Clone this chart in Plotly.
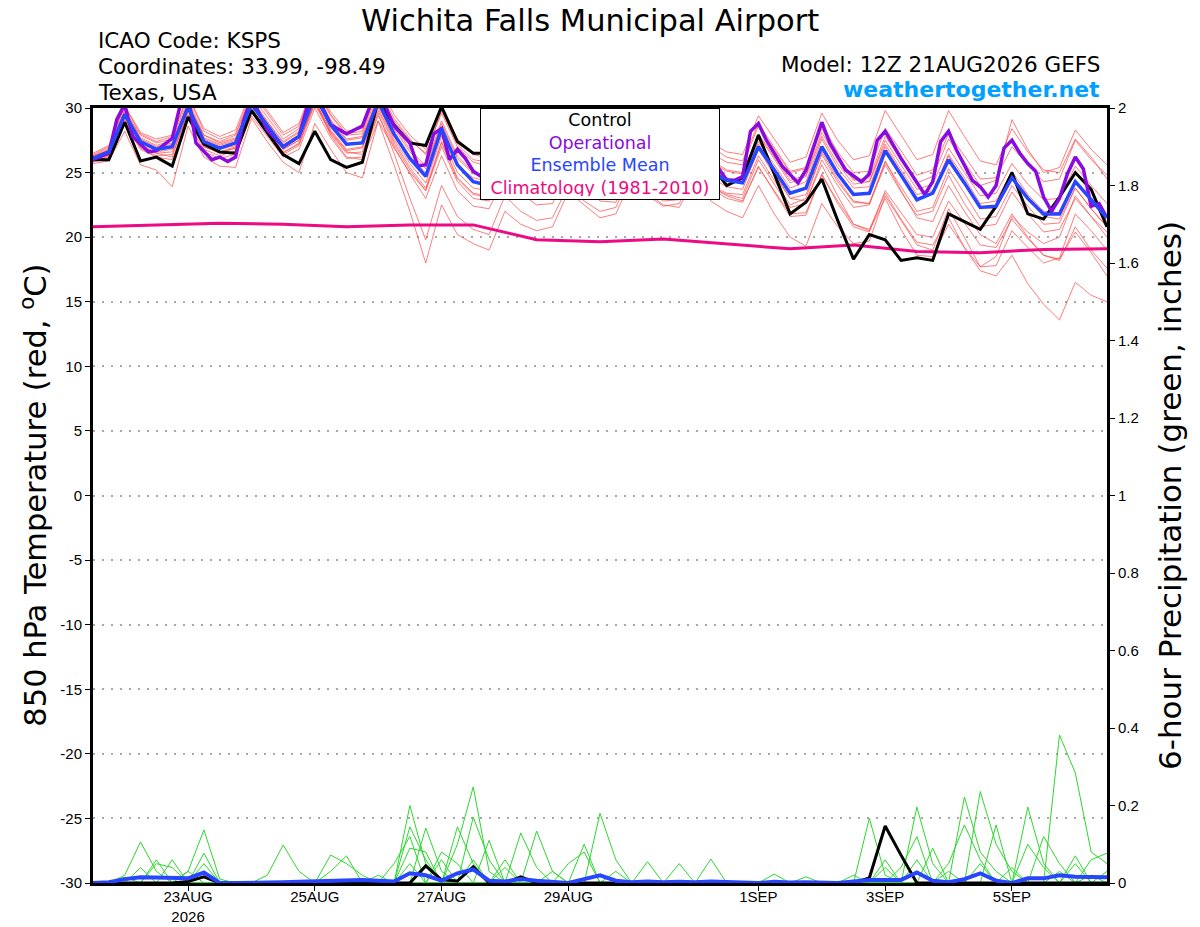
import pandas as pd
import plotly.graph_objects as go

# GEFS 850 hPa temperature / 6-hour precip plume, KSPS, run 12Z 21AUG2026
start = pd.Timestamp('2026-08-21 12:00')
times = pd.date_range(start, periods=65, freq='6h')

# ensemble mean (blue), 6-hourly
mean_temp = [26.1, 26.6, 29.5, 27.4, 26.8, 27.0, 30.1, 27.4, 26.9, 27.3,
             30.3, 28.7, 27.0, 27.8, 31.0, 28.7, 27.2, 27.3, 30.5, 28.0,
             26.1, 24.7, 28.4, 25.6, 24.3, 24.0, 26.5, 25.0, 24.0, 24.0,
             26.5, 25.0, 24.0, 24.2, 26.8, 25.3, 24.5, 24.5, 26.5, 25.0,
             24.4, 24.2, 27.0, 25.2, 23.4, 23.8, 27.0, 24.9, 23.3, 23.4,
             26.7, 24.8, 22.9, 23.4, 26.0, 24.2, 22.3, 22.4, 24.6, 23.0,
             21.8, 21.8, 24.3, 22.9, 21.5]

# control (black), 6-hourly
ctrl_temp = [26.0, 26.0, 28.9, 25.9, 26.2, 25.5, 29.3, 27.2, 26.6, 26.5,
             29.8, 28.1, 26.4, 25.7, 28.2, 26.0, 25.4, 25.8, 30.6, 28.7,
             27.3, 27.1, 30.1, 27.4, 26.5, 26.5, 28.5, 26.5, 25.5, 25.0,
             27.5, 26.0, 25.0, 25.0, 27.5, 26.0, 25.0, 24.8, 27.0, 25.6,
             24.0, 24.6, 27.9, 24.9, 21.8, 22.7, 24.5, 21.3, 18.3, 20.2,
             19.8, 18.2, 18.4, 18.2, 21.8, 21.2, 20.6, 22.4, 25.0, 21.8,
             21.4, 23.1, 25.0, 23.7, 20.8]

# operational GFS (purple), forecast hour -> temp (3-hourly where visible)
op_hours = [0, 6, 9, 12, 15, 21, 24, 30, 33, 36, 39, 45, 48, 51, 54, 57, 60, 66, 72, 78,
            81, 84, 87, 90, 96, 102, 105, 108, 111, 114, 120, 123, 126, 129, 132, 135, 138, 141, 144, 147,
            150, 156, 162, 168, 174, 180, 186, 192, 198, 204, 210, 216, 222, 228, 234, 237, 240, 243, 246, 249,
            252, 255, 261, 267, 270, 276, 279, 285, 291, 294, 297, 300, 306, 315, 318, 321, 324, 327, 333, 336,
            339, 342, 345, 348, 351, 354, 357, 360, 363, 366, 369, 372, 375, 378, 381, 384]
op_temp = [26.0, 26.5, 29.1, 30.3, 27.8, 26.6, 26.7, 27.65, 30.2, 31.0, 27.3, 26.0, 26.2, 25.85, 26.2, 29.0, 30.8, 28.3, 27.0, 27.8,
           30.0, 31.5, 30.0, 28.7, 28.0, 28.6, 30.2, 31.5, 30.0, 28.6, 27.3, 25.5, 25.6, 28.0, 28.4, 26.0, 26.8, 26.1, 25.1, 24.7,
           24.5, 27.0, 25.5, 24.5, 24.5, 27.0, 25.5, 24.5, 24.5, 27.0, 25.8, 25.0, 25.0, 27.0, 25.8, 25.3, 24.4, 24.4, 24.7, 28.2,
           28.8, 27.5, 25.5, 24.2, 25.2, 28.9, 27.3, 25.2, 24.3, 24.9, 27.5, 28.2, 26.1, 23.3, 24.3, 27.4, 28.2, 26.75, 24.4, 23.9,
           23.1, 24.0, 26.9, 27.5, 26.5, 25.7, 25.1, 23.1, 22.0, 23.0, 24.9, 26.2, 25.3, 22.4, 22.6, 21.5]

# 1981-2010 climatology (pink), daily points
clim_hours = [0, 24, 48, 72, 96, 120, 144, 168, 192, 216, 240, 264, 288, 312, 336, 360, 384]
clim_temp = [20.8, 20.95, 21.07, 21.0, 20.8, 20.95, 20.95, 19.8, 19.65, 19.85, 19.45, 19.1, 19.4, 18.9, 18.8, 19.05, 19.1]

# ensemble members, 850 hPa temperature (thin red)
mem01 = [26.3, 26.9, 29.8, 27.9, 27.3, 27.6, 30.6, 27.9, 27.4, 27.9,
         30.9, 29.3, 27.6, 28.4, 31.5, 29.4, 27.9, 28.0, 31.2, 29.0,
         27.5, 26.5, 29.6, 27.0, 25.8, 25.5, 27.8, 26.4, 25.4, 25.3,
         27.9, 26.6, 25.5, 25.7, 28.2, 26.8, 26.0, 25.9, 28.0, 26.5,
         25.8, 25.6, 28.6, 26.8, 25.0, 25.3, 28.7, 26.6, 25.0, 25.1,
         28.4, 26.7, 24.8, 25.2, 28.0, 26.3, 24.5, 24.6, 27.0, 25.6,
         24.3, 24.5, 27.5, 26.0, 24.8]
mem02 = [25.9, 26.2, 29.0, 26.9, 26.3, 26.4, 29.5, 26.8, 26.3, 26.7,
         29.7, 28.0, 26.4, 27.1, 30.3, 28.0, 26.5, 26.6, 29.8, 27.2,
         25.2, 23.6, 27.3, 24.5, 23.3, 23.1, 25.6, 24.2, 23.2, 23.3,
         25.8, 24.4, 23.4, 23.6, 26.1, 24.7, 23.7, 23.6, 25.6, 24.0,
         23.2, 22.8, 25.4, 23.6, 21.8, 21.9, 24.8, 22.8, 21.0, 20.6,
         23.4, 21.4, 19.6, 19.4, 21.5, 19.2, 17.4, 17.0, 18.6, 16.4,
         14.8, 13.6, 16.5, 15.5, 15.0]
mem03 = [26.2, 26.7, 29.6, 27.2, 26.5, 26.2, 29.8, 27.0, 26.5, 26.9,
         30.0, 28.3, 26.6, 27.2, 30.6, 27.9, 26.2, 26.0, 29.0, 25.6,
         22.0, 18.0, 22.5, 20.2, 19.5, 19.0, 22.0, 21.0, 20.5, 20.8,
         23.5, 22.5, 21.5, 21.8, 24.5, 23.2, 22.4, 22.6, 25.0, 23.8,
         23.3, 23.0, 26.0, 24.1, 22.3, 22.6, 26.0, 24.0, 22.3, 22.5,
         25.8, 23.9, 22.0, 22.3, 25.3, 23.4, 21.4, 21.6, 24.0, 22.4,
         21.0, 21.1, 23.8, 22.2, 20.8]
mem04 = [26.0, 26.5, 29.2, 27.0, 26.6, 26.8, 29.9, 27.0, 26.6, 27.0,
         29.9, 28.2, 26.5, 27.3, 30.4, 28.1, 26.6, 26.4, 29.6, 26.5,
         23.0, 19.8, 24.0, 21.6, 20.6, 20.2, 23.2, 22.0, 21.3, 21.5,
         24.0, 22.8, 22.0, 22.3, 25.0, 23.6, 22.8, 22.9, 25.4, 24.0,
         23.4, 23.3, 26.3, 24.4, 22.5, 23.0, 26.6, 24.5, 22.8, 22.6,
         25.9, 23.6, 21.5, 21.2, 24.0, 22.0, 20.2, 19.5, 21.8, 20.0,
         18.6, 18.2, 20.8, 19.0, 17.6]
mem05 = [26.1, 26.4, 29.3, 27.3, 26.9, 27.2, 30.3, 27.6, 27.1, 27.5,
         30.5, 28.6, 26.8, 27.5, 30.6, 28.2, 26.7, 26.9, 30.0, 27.4,
         25.4, 23.8, 27.4, 24.6, 23.4, 23.2, 25.8, 24.3, 23.2, 23.1,
         25.5, 24.0, 22.8, 22.7, 25.0, 23.4, 22.5, 22.3, 24.6, 22.8,
         22.0, 21.5, 24.0, 21.8, 20.0, 19.3, 22.6, 20.8, 19.5, 19.7,
         23.2, 21.3, 19.4, 19.0, 22.2, 20.0, 17.7, 17.8, 20.5, 19.2,
         18.0, 18.4, 21.8, 20.5, 19.0]
mem06 = [26.4, 27.0, 30.1, 28.0, 27.4, 27.8, 30.9, 28.2, 27.6, 28.0,
         31.2, 29.6, 27.9, 28.6, 31.8, 29.5, 28.0, 28.2, 31.5, 29.2,
         27.6, 26.4, 29.8, 27.2, 26.0, 25.8, 28.4, 27.0, 26.0, 26.0,
         28.6, 27.2, 26.2, 26.4, 29.0, 27.5, 26.6, 26.6, 28.8, 27.3,
         26.6, 26.4, 29.4, 27.6, 25.8, 26.2, 29.6, 27.5, 26.0, 26.3,
         29.8, 27.9, 26.0, 26.4, 29.8, 27.8, 25.9, 25.6, 28.4, 26.6,
         25.2, 25.0, 27.6, 26.2, 24.5]
mem07 = [26.2, 26.8, 29.7, 27.6, 27.0, 27.3, 30.4, 27.7, 27.2, 27.6,
         30.7, 29.0, 27.3, 28.1, 31.2, 29.0, 27.5, 27.7, 30.9, 28.6,
         26.8, 25.5, 29.0, 26.3, 25.0, 24.8, 27.2, 25.8, 24.8, 24.8,
         27.3, 25.9, 24.9, 25.1, 27.6, 26.1, 25.3, 25.3, 27.4, 26.0,
         25.2, 25.0, 28.0, 26.2, 24.4, 24.8, 28.1, 26.0, 24.4, 24.6,
         27.8, 26.0, 24.2, 24.7, 27.6, 25.8, 24.0, 24.4, 29.1, 26.8,
         25.0, 25.4, 28.3, 26.8, 25.6]
mem08 = [25.8, 26.3, 28.8, 26.8, 26.2, 26.0, 29.2, 26.6, 26.1, 26.4,
         29.4, 27.8, 26.2, 26.8, 30.0, 27.7, 26.1, 26.2, 29.4, 27.0,
         24.9, 23.0, 26.3, 23.6, 22.4, 22.2, 24.8, 23.4, 22.5, 22.6,
         25.2, 23.9, 22.9, 23.1, 25.7, 24.2, 23.3, 23.2, 25.4, 23.8,
         23.0, 22.7, 25.5, 23.5, 21.6, 21.7, 24.9, 22.6, 20.8, 20.4,
         23.6, 21.9, 20.2, 20.0, 22.8, 21.1, 19.4, 19.2, 21.4, 19.9,
         18.6, 18.3, 20.4, 18.8, 17.0]
mem09 = [25.7, 25.9, 28.2, 25.6, 25.2, 23.9, 28.6, 26.2, 25.5, 25.4,
         29.2, 27.4, 25.8, 25.0, 28.8, 26.8, 25.0, 24.6, 29.0, 26.9,
         25.0, 23.6, 27.0, 24.3, 23.0, 22.8, 25.4, 24.1, 23.3, 23.4,
         26.0, 24.7, 23.8, 24.0, 26.6, 25.0, 24.1, 24.2, 26.2, 24.6,
         23.9, 23.7, 26.8, 24.8, 23.0, 23.3, 26.4, 24.3, 22.7, 22.6,
         25.6, 23.5, 21.7, 22.0, 24.8, 22.6, 20.8, 21.0, 23.5, 21.8,
         20.4, 20.6, 23.0, 21.6, 20.0]
mem10 = [26.0, 26.6, 29.4, 27.5, 26.7, 27.1, 30.0, 27.5, 26.8, 27.1,
         30.1, 28.5, 27.1, 27.9, 30.8, 28.5, 27.1, 27.4, 30.3, 27.8,
         26.2, 25.0, 28.1, 25.5, 24.6, 24.3, 26.7, 25.3, 24.3, 24.4,
         26.8, 25.4, 24.5, 24.7, 27.2, 25.6, 24.7, 24.8, 26.9, 25.3,
         24.6, 24.3, 27.2, 25.0, 23.0, 22.8, 25.6, 23.2, 21.0, 20.5,
         23.0, 20.6, 18.6, 18.5, 21.0, 19.2, 17.7, 18.5, 21.6, 20.4,
         19.5, 20.0, 23.2, 21.6, 20.4]
mem11 = [26.3, 26.7, 29.9, 27.7, 27.1, 27.5, 30.2, 27.9, 27.3, 27.7,
         30.6, 28.9, 27.4, 28.2, 31.3, 29.1, 27.6, 27.8, 30.8, 28.4,
         26.6, 25.3, 28.8, 26.1, 24.9, 24.6, 27.0, 25.6, 24.6, 24.7,
         27.1, 25.8, 24.8, 25.0, 27.5, 26.0, 25.1, 25.2, 27.3, 25.8,
         25.1, 24.9, 27.9, 26.0, 24.2, 24.7, 27.8, 25.7, 24.1, 24.3,
         27.5, 25.6, 23.7, 24.1, 26.9, 25.0, 23.2, 23.4, 25.7, 24.1,
         22.9, 23.0, 25.5, 24.0, 22.6]
mem12 = [26.5, 27.1, 30.2, 28.1, 27.6, 27.9, 31.0, 28.4, 27.8, 28.3,
         31.4, 29.8, 28.1, 28.8, 32.0, 29.7, 28.2, 28.4, 31.8, 29.5,
         27.9, 26.8, 30.2, 27.6, 26.4, 26.1, 28.6, 27.3, 26.3, 26.2,
         28.8, 27.4, 26.4, 26.5, 29.0, 27.6, 26.7, 26.5, 28.6, 27.0,
         26.2, 25.9, 28.8, 26.9, 25.1, 25.4, 28.4, 26.2, 24.5, 24.3,
         27.2, 25.2, 23.3, 23.6, 26.3, 24.2, 22.3, 22.2, 24.7, 22.9,
         21.6, 21.4, 23.8, 22.2, 20.8]
mem13 = [26.0, 26.4, 29.1, 27.1, 26.5, 26.6, 29.7, 27.2, 26.6, 26.9,
         29.9, 28.4, 26.8, 27.5, 30.5, 28.3, 26.8, 27.0, 30.2, 27.6,
         25.7, 24.2, 27.8, 25.0, 23.8, 23.6, 26.1, 24.6, 23.7, 23.8,
         26.3, 24.9, 23.9, 24.1, 26.7, 25.1, 24.2, 24.3, 26.5, 25.1,
         24.5, 24.4, 27.4, 25.6, 23.8, 24.3, 27.6, 25.4, 23.8, 23.9,
         27.0, 25.0, 23.0, 23.5, 26.4, 24.6, 22.6, 22.8, 25.1, 23.3,
         22.0, 21.9, 24.4, 22.8, 21.2]
temp_members = [mem01, mem02, mem03, mem04, mem05, mem06, mem07,
                mem08, mem09, mem10, mem11, mem12, mem13]

# 6-hour precipitation (inches)
ctrl_pcp = [0, 0, 0, 0, 0, 0, 0.004, 0.016, 0, 0,
            0, 0, 0, 0, 0, 0, 0, 0, 0, 0,
            0, 0.044, 0.008, 0.005, 0.042, 0, 0, 0.016, 0, 0,
            0, 0, 0, 0, 0, 0, 0, 0, 0, 0,
            0, 0, 0, 0, 0, 0, 0, 0, 0, 0.013,
            0.147, 0.072, 0, 0, 0, 0, 0, 0, 0, 0,
            0, 0, 0, 0, 0]
mean_pcp = [0, 0.002, 0.01, 0.015, 0.014, 0.012, 0.012, 0.027, 0, 0,
            0, 0, 0.002, 0.003, 0.004, 0.006, 0.008, 0.008, 0.006, 0.004,
            0.025, 0.02, 0.006, 0.025, 0.035, 0.006, 0.004, 0.01, 0.006, 0.003,
            0, 0.01, 0.02, 0.006, 0.002, 0.004, 0.002, 0.003, 0.002, 0.004,
            0.002, 0.001, 0, 0.003, 0.001, 0.002, 0, 0, 0.004, 0.008,
            0.008, 0.008, 0.027, 0.006, 0.002, 0.01, 0.025, 0.006, 0, 0.012,
            0.012, 0.02, 0.016, 0.016, 0.015]

pcp01 = [0, 0, 0.02, 0.106, 0.03, 0, 0, 0, 0, 0,
         0, 0, 0, 0, 0, 0, 0, 0, 0, 0,
         0.2, 0.05, 0, 0, 0, 0, 0, 0, 0, 0,
         0, 0, 0, 0, 0, 0, 0, 0, 0, 0,
         0, 0, 0, 0, 0, 0, 0, 0, 0, 0,
         0, 0, 0, 0, 0, 0.222, 0.08, 0.03, 0, 0,
         0, 0, 0, 0, 0]
pcp02 = [0, 0, 0, 0, 0, 0, 0.03, 0.137, 0.01, 0,
         0, 0, 0, 0, 0, 0, 0, 0, 0, 0,
         0, 0, 0, 0.1, 0.248, 0.03, 0, 0, 0, 0,
         0, 0, 0, 0, 0, 0, 0, 0, 0, 0,
         0, 0, 0, 0, 0, 0, 0, 0, 0, 0,
         0, 0, 0, 0, 0, 0, 0, 0, 0, 0,
         0, 0.382, 0.284, 0.08, 0.05]
pcp03 = [0, 0, 0, 0, 0, 0, 0, 0.077, 0, 0,
         0, 0.02, 0.098, 0.03, 0, 0, 0, 0, 0, 0,
         0, 0.142, 0.03, 0, 0, 0, 0, 0, 0, 0,
         0, 0, 0, 0, 0, 0, 0, 0, 0, 0,
         0, 0, 0, 0, 0, 0, 0, 0, 0, 0,
         0, 0, 0.196, 0.05, 0, 0, 0, 0, 0, 0,
         0, 0, 0, 0, 0]
pcp04 = [0, 0, 0, 0, 0, 0, 0, 0, 0, 0,
         0, 0, 0, 0, 0, 0.072, 0.05, 0.02, 0, 0,
         0, 0, 0, 0, 0.17, 0.06, 0, 0, 0, 0,
         0, 0, 0, 0, 0, 0, 0, 0, 0, 0,
         0, 0, 0, 0, 0, 0, 0, 0, 0, 0.167,
         0.02, 0, 0, 0, 0, 0, 0, 0, 0, 0.196,
         0.05, 0, 0, 0, 0]
pcp05 = [0, 0, 0, 0, 0, 0, 0, 0, 0, 0,
         0, 0, 0, 0, 0, 0, 0, 0, 0, 0,
         0.145, 0.06, 0, 0.145, 0.05, 0, 0, 0, 0, 0,
         0, 0, 0, 0, 0, 0, 0, 0, 0, 0,
         0, 0, 0, 0, 0, 0, 0, 0, 0, 0,
         0, 0, 0, 0, 0, 0, 0.236, 0.1, 0.03, 0,
         0, 0, 0, 0, 0]
pcp06 = [0, 0, 0, 0, 0, 0, 0, 0, 0, 0,
         0, 0, 0, 0, 0, 0, 0, 0, 0, 0,
         0, 0, 0, 0, 0, 0, 0, 0.129, 0.04, 0,
         0, 0, 0.18, 0.06, 0, 0, 0, 0, 0, 0,
         0, 0, 0, 0, 0, 0, 0, 0, 0, 0,
         0, 0.04, 0.12, 0, 0, 0, 0, 0, 0, 0,
         0.12, 0.05, 0, 0, 0]
pcp07 = [0, 0, 0, 0, 0, 0, 0, 0, 0, 0,
         0, 0, 0, 0, 0, 0, 0, 0, 0, 0,
         0, 0, 0, 0, 0, 0, 0, 0, 0.134, 0.03,
         0, 0, 0, 0, 0, 0.055, 0, 0.05, 0, 0.062,
         0, 0, 0, 0.023, 0, 0.016, 0, 0, 0, 0,
         0, 0, 0, 0, 0.05, 0.15, 0.06, 0, 0, 0,
         0, 0, 0, 0.06, 0.077]
pcp08 = [0, 0, 0, 0, 0.05, 0.04, 0, 0, 0, 0,
         0, 0, 0, 0, 0, 0.03, 0.07, 0, 0, 0.05,
         0.12, 0, 0.08, 0.05, 0, 0, 0.06, 0, 0, 0,
         0, 0.1, 0, 0, 0, 0, 0, 0, 0, 0,
         0, 0, 0, 0, 0, 0, 0, 0, 0, 0,
         0.04, 0, 0, 0.09, 0, 0, 0, 0.15, 0, 0,
         0, 0, 0.05, 0, 0]
pcp09 = [0, 0, 0, 0.04, 0, 0.06, 0, 0.05, 0, 0,
         0, 0, 0, 0, 0, 0, 0, 0, 0.02, 0,
         0.05, 0, 0.06, 0, 0.06, 0, 0.04, 0, 0, 0.03,
         0, 0, 0, 0.03, 0, 0, 0, 0, 0, 0,
         0, 0, 0, 0, 0, 0, 0, 0, 0.02, 0,
         0.06, 0, 0, 0, 0, 0, 0.05, 0, 0.04, 0,
         0, 0.03, 0, 0.02, 0]
pcp10 = [0, 0, 0.015, 0, 0.06, 0, 0.03, 0, 0, 0,
         0, 0, 0, 0, 0, 0, 0, 0, 0, 0,
         0.09, 0.08, 0, 0, 0, 0.11, 0, 0, 0, 0,
         0.05, 0.08, 0, 0, 0, 0, 0, 0, 0, 0,
         0, 0, 0, 0, 0, 0, 0, 0, 0, 0,
         0, 0, 0.06, 0, 0.03, 0, 0, 0, 0, 0.1,
         0.04, 0, 0.07, 0, 0.03]
pcp_members = [pcp01, pcp02, pcp03, pcp04, pcp05, pcp06, pcp07, pcp08, pcp09, pcp10]

tick_dates = ['2026-08-23', '2026-08-25', '2026-08-27', '2026-08-29',
              '2026-09-01', '2026-09-03', '2026-09-05']
tick_text = ['23AUG<br>2026', '25AUG', '27AUG', '29AUG', '1SEP', '3SEP', '5SEP']
temp_ticks = [-30, -25, -20, -15, -10, -5, 0, 5, 10, 15, 20, 25, 30]
temp_tick_text = ['-30', '-25', '-20', '-15', '-10', '-5', '0', '5', '10', '15', '20', '25', '30']
pcp_ticks = [0, 0.2, 0.4, 0.6, 0.8, 1, 1.2, 1.4, 1.6, 1.8, 2]

TEXT_FONT = 'DejaVu Sans, Verdana, sans-serif'
TICK_FONT = 'Liberation Sans, Arial, Helvetica, sans-serif'
PURPLE = '#8A0BE0'
BLUE = '#2846FF'
PINK = '#EE0A82'

op_times = [start + pd.Timedelta(hours=h) for h in op_hours]
clim_times = [start + pd.Timedelta(hours=h) for h in clim_hours]

fig = go.Figure()

for m in temp_members:
    fig.add_trace(go.Scatter(x=times, y=m, mode='lines',
                             line=dict(color='rgba(255,70,70,0.7)', width=1)))
for p in pcp_members:
    fig.add_trace(go.Scatter(x=times, y=p, mode='lines', yaxis='y2',
                             line=dict(color='rgb(45,215,45)', width=1)))

fig.add_trace(go.Scatter(x=times, y=ctrl_pcp, mode='lines', yaxis='y2',
                         line=dict(color='black', width=3)))
fig.add_trace(go.Scatter(x=times, y=mean_pcp, mode='lines', yaxis='y2',
                         line=dict(color=BLUE, width=4)))

fig.add_trace(go.Scatter(x=clim_times, y=clim_temp, mode='lines',
                         line=dict(color=PINK, width=3)))
fig.add_trace(go.Scatter(x=times, y=ctrl_temp, mode='lines',
                         line=dict(color='black', width=3)))
fig.add_trace(go.Scatter(x=op_times, y=op_temp, mode='lines',
                         line=dict(color=PURPLE, width=3.5)))
fig.add_trace(go.Scatter(x=times, y=mean_temp, mode='lines',
                         line=dict(color=BLUE, width=3.5)))

legend_text = ('Control<br>'
               '<span style="color:%s">Operational</span><br>'
               '<span style="color:%s">Ensemble Mean</span><br>'
               '<span style="color:%s">Climatology (1981-2010)</span>' % (PURPLE, BLUE, PINK))

fig.update_layout(
    width=1200, height=927,
    margin=dict(l=93, r=93, t=108, b=44),
    paper_bgcolor='white', plot_bgcolor='white',
    showlegend=False,
    font=dict(family=TEXT_FONT, color='black', size=15),
    xaxis=dict(
        type='date', automargin=False,
        range=[start, start + pd.Timedelta(hours=384)],
        tickvals=tick_dates, ticktext=tick_text,
        ticks='outside', ticklen=5, tickcolor='black',
        ticklabelstandoff=-7,
        showgrid=False, zeroline=False,
        showline=True, linecolor='black', linewidth=3, mirror=True,
        tickfont=dict(family=TICK_FONT, size=15),
    ),
    yaxis=dict(
        range=[-30, 30], automargin=False,
        tickvals=temp_ticks, ticktext=temp_tick_text,
        ticks='outside', ticklen=5, tickcolor='black',
        showgrid=True, gridcolor='#a8a8a8', griddash='2px,7px', gridwidth=1.5,
        zeroline=False,
        showline=True, linecolor='black', linewidth=3,
        tickfont=dict(family=TICK_FONT, size=15),
    ),
    yaxis2=dict(
        range=[0, 2], automargin=False, overlaying='y', side='right',
        tickvals=pcp_ticks,
        ticks='outside', ticklen=5, tickcolor='black',
        showgrid=False, zeroline=False,
        showline=True, linecolor='black', linewidth=3,
        tickfont=dict(family=TICK_FONT, size=15),
        title=dict(text='6-hour Precipitation (green, inches)',
                   font=dict(size=31), standoff=22),
    ),
)

# left axis title placed by hand so it sits as far out as the original
fig.add_annotation(text='850 hPa Temperature (red, <sup>o</sup>C)', xref='paper', yref='paper',
                   x=-0.059, y=0.5, xanchor='center', yanchor='middle', textangle=-90,
                   showarrow=False, font=dict(size=30.5))

# header texts
fig.add_annotation(text='Wichita Falls Municipal Airport', xref='paper', yref='paper',
                   x=0.49, y=1.1135, xanchor='center', yanchor='middle',
                   showarrow=False, font=dict(size=30.5))
for txt, yy in [('ICAO Code: KSPS', 1.087), ('Coordinates: 33.99, -98.49', 1.053),
                ('Texas, USA', 1.0194)]:
    fig.add_annotation(text=txt, xref='paper', yref='paper', x=0.003, y=yy,
                       xanchor='left', yanchor='middle', showarrow=False,
                       font=dict(size=21.5))
fig.add_annotation(text='Model: 12Z 21AUG2026 GEFS', xref='paper', yref='paper',
                   x=0.995, y=1.0556, xanchor='right', yanchor='middle',
                   showarrow=False, font=dict(size=21.5))
fig.add_annotation(text='<b>weathertogether.net</b>', xref='paper', yref='paper',
                   x=0.995, y=1.0245, xanchor='right', yanchor='middle',
                   showarrow=False, font=dict(size=22, color='#00A0FF'))

# legend box
fig.add_annotation(text=legend_text, xref='paper', yref='paper', x=0.5, y=1.0,
                   xanchor='center', yanchor='top', showarrow=False, align='center',
                   bgcolor='white', bordercolor='black', borderwidth=1, borderpad=3,
                   width=232, height=84, valign='middle',
                   font=dict(size=17.5, color='black'))

# drop the default 8px page margin so the 1200x927 figure fills the window
fig.write_html('out.html', config={'displayModeBar': False},
               post_script="document.body.style.margin='0';")
